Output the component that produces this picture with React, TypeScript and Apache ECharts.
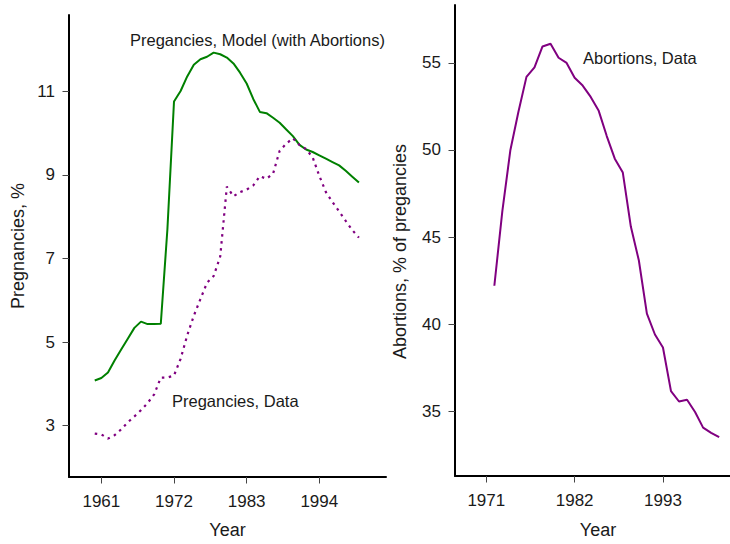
import React, { useEffect, useRef } from "react";
import * as echarts from "echarts";

const leftYears = [
  1960, 1961, 1962, 1963, 1964, 1965, 1966, 1967, 1968, 1969, 1970, 1971, 1972, 1973,
  1974, 1975, 1976, 1977, 1978, 1979, 1980, 1981, 1982, 1983, 1984, 1985, 1986, 1987,
  1988, 1989, 1990, 1991, 1992, 1993, 1994, 1995, 1996, 1997, 1998, 1999, 2000,
];
const modelPregnancies = [
  4.08, 4.14, 4.27, 4.56, 4.82, 5.08, 5.34, 5.49, 5.43, 5.43, 5.44, 7.7, 10.76, 11.01,
  11.36, 11.64, 11.77, 11.83, 11.93, 11.89, 11.81, 11.67, 11.45, 11.19, 10.82, 10.51, 10.48, 10.37,
  10.25, 10.09, 9.93, 9.72, 9.61, 9.55, 9.47, 9.39, 9.31, 9.23, 9.1, 8.96, 8.82,
];
const dataPregnancies = [
  2.81, 2.79, 2.69, 2.77, 2.91, 3.08, 3.22, 3.37, 3.54, 3.75, 4.15, 4.15, 4.2, 4.6,
  5.16, 5.63, 6.03, 6.42, 6.58, 7.05, 8.72, 8.49, 8.59, 8.65, 8.75, 8.97, 8.91, 9.03,
  9.58, 9.75, 9.88, 9.72, 9.62, 9.42, 8.98, 8.59, 8.35, 8.13, 7.9, 7.68, 7.5,
];
const rightYears = [
  1972, 1973, 1974, 1975, 1976, 1977, 1978, 1979, 1980, 1981, 1982, 1983, 1984, 1985,
  1986, 1987, 1988, 1989, 1990, 1991, 1992, 1993, 1994, 1995, 1996, 1997, 1998, 1999, 2000,
];
const abortionShare = [
  42.2, 46.5, 50.0, 52.2, 54.2, 54.75, 55.95, 56.1, 55.3, 55.0, 54.15, 53.7, 53.05, 52.25,
  50.8, 49.5, 48.7, 45.6, 43.65, 40.6, 39.4, 38.65, 36.15, 35.55, 35.65, 34.95, 34.05, 33.75, 33.5,
];
const leftXTicks = [1961, 1972, 1983, 1994];
const leftYTicks = [3, 5, 7, 9, 11];
const rightXTicks = [1971, 1982, 1993];
const rightYTicks = [35, 40, 45, 50, 55];

const FONT = "'Liberation Sans', Arial, Helvetica, sans-serif";
const TEXT = "#1a1a1a";

export default function App() {
  const ref = useRef<HTMLDivElement>(null);
  useEffect(() => {
    const chart = echarts.init(ref.current!, null, { renderer: "svg" });
    const axisLine = { show: true, onZero: false, lineStyle: { color: "#000", width: 2 } };
    const axisTick = (vals: number[]) => ({
      show: true,
      length: 6.5,
      customValues: vals,
      lineStyle: { color: "#444", width: 1 },
    });
    const axisLabel = (vals: number[], margin: number) => ({
      customValues: vals,
      margin,
      color: TEXT,
      fontSize: 17,
      fontFamily: FONT,
      formatter: (v: number) => String(v),
    });
    const nameStyle = { color: TEXT, fontSize: 18, fontFamily: FONT };

    chart.setOption({
      animation: false,
      backgroundColor: "#fff",
      grid: [
        { left: 69, top: 15, width: 317, height: 464.5 },
        { left: 455, top: 5, width: 275, height: 476.3 },
      ],
      xAxis: [
        {
          type: "value", gridIndex: 0, min: 1956.1, max: 2004.1,
          axisLine, axisTick: axisTick(leftXTicks), axisLabel: axisLabel(leftXTicks, 16),
          splitLine: { show: false },
          name: "Year", nameLocation: "middle", nameGap: 44, nameTextStyle: nameStyle,
        },
        {
          type: "value", gridIndex: 1, min: 1967.1, max: 2001.35,
          axisLine, axisTick: axisTick(rightXTicks), axisLabel: axisLabel(rightXTicks, 16),
          splitLine: { show: false },
          name: "Year", nameLocation: "middle", nameGap: 45,
          nameTextStyle: { ...nameStyle, padding: [0, 0, 0, 11] },
        },
      ],
      yAxis: [
        {
          type: "value", gridIndex: 0, min: 1.77, max: 12.83,
          axisLine, axisTick: axisTick(leftYTicks), axisLabel: axisLabel(leftYTicks, 14),
          splitLine: { show: false },
          name: "Pregnancies, %", nameLocation: "middle", nameGap: 42, nameTextStyle: nameStyle,
        },
        {
          type: "value", gridIndex: 1, min: 31.27, max: 58.33,
          axisLine, axisTick: axisTick(rightYTicks), axisLabel: axisLabel(rightYTicks, 14),
          splitLine: { show: false },
          name: "Abortions, % of pregancies", nameLocation: "middle", nameGap: 46,
          nameTextStyle: { ...nameStyle, padding: [0, 22, 0, 0] },
        },
      ],
      series: [
        {
          type: "line", xAxisIndex: 0, yAxisIndex: 0, showSymbol: false,
          data: leftYears.map((y, i) => [y, modelPregnancies[i]]),
          lineStyle: { color: "#008000", width: 2 },
        },
        {
          type: "line", xAxisIndex: 0, yAxisIndex: 0, showSymbol: false,
          data: leftYears.map((y, i) => [y, dataPregnancies[i]]),
          lineStyle: { color: "#800080", width: 2.2, type: [2.5, 4.5], cap: "butt" },
        },
        {
          type: "line", xAxisIndex: 1, yAxisIndex: 1, showSymbol: false,
          data: rightYears.map((y, i) => [y, abortionShare[i]]),
          lineStyle: { color: "#800080", width: 2 },
        },
      ],
      graphic: [
        {
          type: "text", left: 130, top: 31.5,
          style: { text: "Pregancies, Model (with Abortions)", fill: TEXT, font: `16.5px ${FONT}` },
        },
        {
          type: "text", left: 172, top: 392,
          style: { text: "Pregancies, Data", fill: TEXT, font: `16.5px ${FONT}` },
        },
        {
          type: "text", left: 583, top: 49.5,
          style: { text: "Abortions, Data", fill: TEXT, font: `16.5px ${FONT}` },
        },
      ],
    });
    return () => chart.dispose();
  }, []);
  return (
    <div
      ref={ref}
      style={{ position: "fixed", left: 0, top: 0, width: 730, height: 544, overflow: "hidden" }}
    />
  );
}
